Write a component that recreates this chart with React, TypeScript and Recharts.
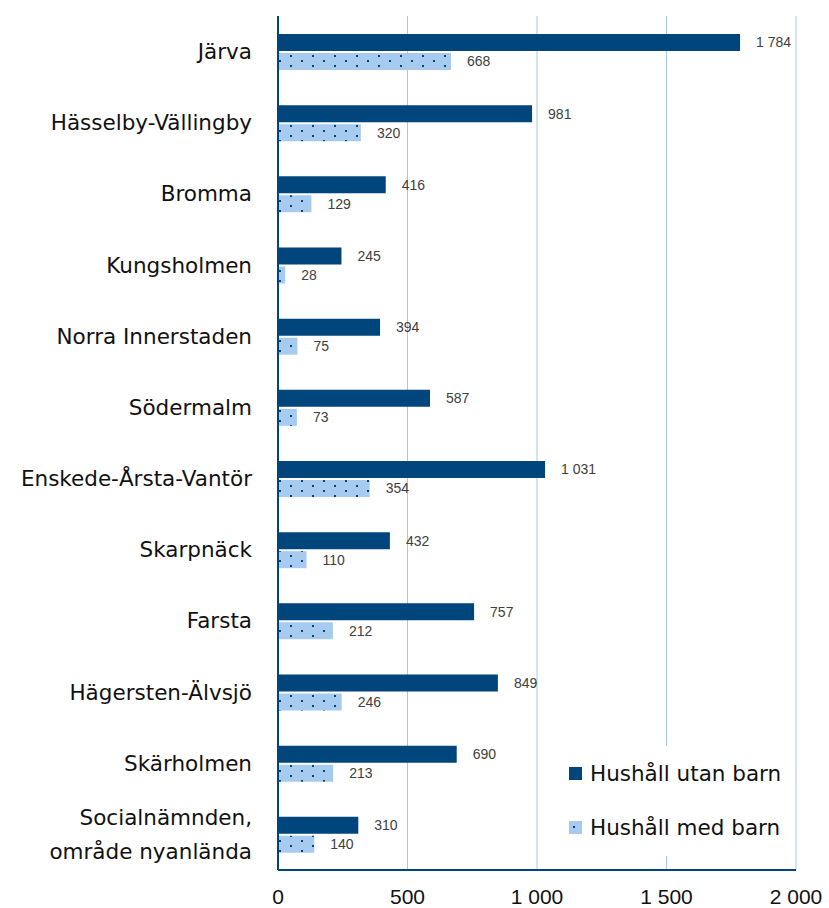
import React from 'react';
import { BarChart, Bar, XAxis, YAxis, CartesianGrid, LabelList, Legend } from 'recharts';

const categories = [
  'Järva',
  'Hässelby-Vällingby',
  'Bromma',
  'Kungsholmen',
  'Norra Innerstaden',
  'Södermalm',
  'Enskede-Årsta-Vantör',
  'Skarpnäck',
  'Farsta',
  'Hägersten-Älvsjö',
  'Skärholmen',
  'Socialnämnden,\nområde nyanlända',
];
const utanBarn = [1784, 981, 416, 245, 394, 587, 1031, 432, 757, 849, 690, 310];
const medBarn = [668, 320, 129, 28, 75, 73, 354, 110, 212, 246, 213, 140];
const xTicks = [0, 500, 1000, 1500, 2000];
const seriesNames = ['Hushåll utan barn', 'Hushåll med barn'];

const data = categories.map((c, i) => ({ name: c, utan: utanBarn[i], med: medBarn[i] }));

const DARK = '#00457C';
const LIGHT = '#A6CBEE';
const GRID = '#A9C8E8';
const FONT = '"DejaVu Sans", sans-serif';
const ARIAL = '"Liberation Sans", Arial, sans-serif';

const fmt = (v: any) => String(v).replace(/\B(?=(\d{3})+(?!\d))/g, ' ');

const CatTick = (props: any) => {
  const { x, y, payload } = props;
  const lines = String(payload.value).split('\n');
  const lh = 34;
  const start = -((lines.length - 1) * lh) / 2;
  return (
    <g>
      {lines.map((l, i) => (
        <text
          key={i}
          x={x - 18}
          y={y + start + i * lh}
          textAnchor="end"
          dominantBaseline="central"
          fontFamily={FONT}
          fontSize={21.5}
          fill="#111"
        >
          {l}
        </text>
      ))}
    </g>
  );
};

const XTick = (props: any) => {
  const { x, y, payload } = props;
  return (
    <text x={x} y={y + 18} textAnchor="middle" dominantBaseline="central" fontFamily={ARIAL} fontSize={21} fill="#111">
      {fmt(payload.value)}
    </text>
  );
};

const LegendContent = () => (
  <div style={{ background: '#fff', width: '100%', height: '100%', fontFamily: FONT, fontSize: 21.5, color: '#111', position: 'relative' }}>
    {seriesNames.map((n, i) => (
      <div key={n} style={{ position: 'absolute', left: 4, top: 15 + i * 54, display: 'flex', alignItems: 'center', whiteSpace: 'nowrap' }}>
        <svg width={13} height={13} style={{ marginRight: 8 }}>
          <rect x={0} y={0} width={13} height={13} fill={i === 0 ? DARK : 'url(#dots)'} />
        </svg>
        <span>{n}</span>
      </div>
    ))}
  </div>
);

export default function App() {
  return (
    <div style={{ position: 'absolute', left: 0, top: 0, width: 829, height: 908, background: '#fff' }}>
      <svg width={0} height={0} style={{ position: 'absolute' }}>
        <defs>
          <pattern id="dots" patternUnits="userSpaceOnUse" width={22} height={10}>
            <rect x={0} y={0} width={22} height={10} fill={LIGHT} />
            <rect x={15} y={0} width={2} height={2} fill={DARK} />
            <rect x={4} y={5} width={2} height={2} fill={DARK} />
          </pattern>
        </defs>
      </svg>
      <BarChart
        width={829}
        height={908}
        data={data}
        layout="vertical"
        margin={{ top: 16, right: 33, left: 8, bottom: 0 }}
        barSize={17}
        barGap={2}
      >
        <CartesianGrid horizontal={false} vertical={true} stroke={GRID} strokeWidth={1} />
        <XAxis
          type="number"
          domain={[0, 2000]}
          ticks={xTicks}
          height={38}
          tickLine={false}
          axisLine={{ stroke: DARK, strokeWidth: 2 }}
          tick={<XTick />}
          interval={0}
        />
        <YAxis
          type="category"
          dataKey="name"
          width={270}
          tickLine={false}
          axisLine={{ stroke: DARK, strokeWidth: 2 }}
          tick={<CatTick />}
          interval={0}
        />
        <Legend
          layout="vertical"
          align="center"
          verticalAlign="middle"
          content={<LegendContent />}
          wrapperStyle={{ left: 565, top: 746, width: 230, height: 110, bottom: 'auto', right: 'auto' }}
        />
        <Bar dataKey="utan" name={seriesNames[0]} fill={DARK} isAnimationActive={false}>
          <LabelList dataKey="utan" position="right" offset={16} formatter={fmt} fill="#404040" fontSize={14} fontFamily={ARIAL} />
        </Bar>
        <Bar dataKey="med" name={seriesNames[1]} fill="url(#dots)" isAnimationActive={false}>
          <LabelList dataKey="med" position="right" offset={16} formatter={fmt} fill="#404040" fontSize={14} fontFamily={ARIAL} />
        </Bar>
      </BarChart>
    </div>
  );
}
